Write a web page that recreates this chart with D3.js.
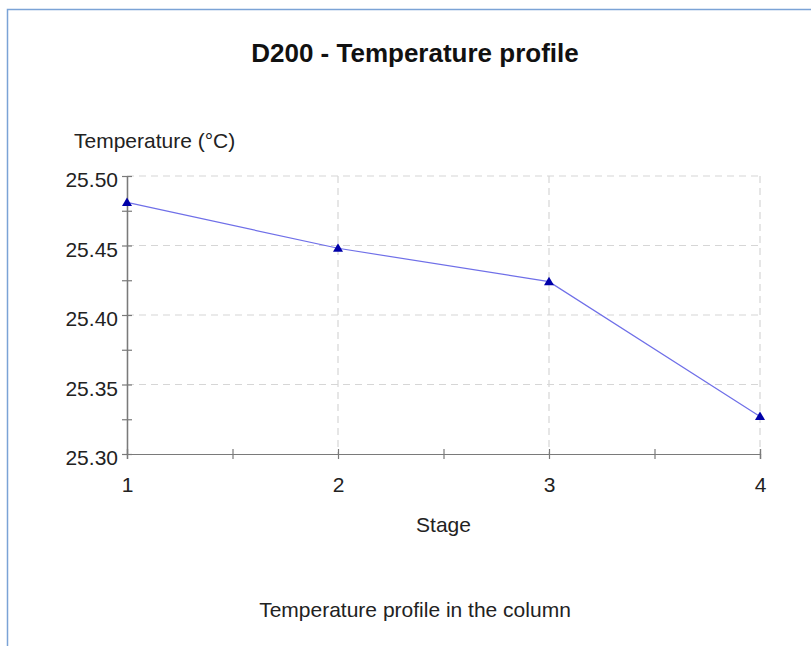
<!DOCTYPE html>
<html>
<head>
<meta charset="utf-8">
<script src="https://cdn.jsdelivr.net/npm/d3@7"></script>
<style>
html,body{margin:0;padding:0;background:#fff;}
svg{display:block;font-family:"Liberation Sans",Arial,sans-serif;}
</style>
</head>
<body>
<div id="chart"></div>
<script>
const title = "D200 - Temperature profile";
const caption = "Temperature profile in the column";
const yTitle = "Temperature (°C)";
const xTitle = "Stage";
const stages = [1, 2, 3, 4];
const temperatures = [25.481, 25.448, 25.424, 25.327];
const yTicks = [25.30, 25.35, 25.40, 25.45, 25.50];
const yMinorTicks = [25.325, 25.375, 25.425, 25.475];
const xMinorTicks = [1.5, 2.5, 3.5];

const W = 811, H = 646;
const svg = d3.select("#chart").append("svg").attr("width", W).attr("height", H);

// frame
svg.append("path").attr("d", `M7.5,${H} V9.5 H${W}`).attr("fill","none").attr("stroke","#7ba3d6").attr("stroke-width",1.5);

const x = d3.scaleLinear().domain([1,4]).range([127,760]);
const y = d3.scaleLinear().domain([25.30,25.50]).range([454,176]);

// grid
const grid = svg.append("g").attr("stroke","#d6d6d6").attr("stroke-dasharray","7,5").attr("stroke-width",1.2);
grid.selectAll(".gy").data(yTicks.slice(1)).join("line")
  .attr("x1",x(1)).attr("x2",x(4)).attr("y1",d=>y(d)).attr("y2",d=>y(d));
grid.selectAll(".gx").data(stages.slice(1)).join("line")
  .attr("x1",d=>x(d)).attr("x2",d=>x(d)).attr("y1",y(25.50)).attr("y2",y(25.30));

// axes
const axisColor = "#7a7a7a";
const yAxis = svg.append("g").attr("transform",`translate(${x(1)},0)`)
  .call(d3.axisLeft(y).tickValues(yTicks).tickFormat(d3.format(".2f")).tickSize(5).tickPadding(4));
const yMinor = svg.append("g").attr("transform",`translate(${x(1)},0)`)
  .call(d3.axisLeft(y).tickValues(yMinorTicks).tickFormat("").tickSize(5));
const yRight = svg.append("g").attr("transform",`translate(${x(1)},0)`)
  .call(d3.axisRight(y).tickValues(yTicks.concat(yMinorTicks)).tickFormat("").tickSize(5));
const xAxis = svg.append("g").attr("transform",`translate(0,${y(25.30)})`)
  .call(d3.axisBottom(x).tickValues(stages).tickFormat(d3.format("d")).tickSize(5).tickPadding(18));
const xMinor = svg.append("g").attr("transform",`translate(0,${y(25.30)})`)
  .call(d3.axisBottom(x).tickValues(xMinorTicks).tickFormat("").tickSize(5));
const xUp = svg.append("g").attr("transform",`translate(0,${y(25.30)})`)
  .call(d3.axisTop(x).tickValues(stages.concat(xMinorTicks)).tickFormat("").tickSize(5));
[yAxis,yMinor,yRight,xAxis,xMinor,xUp].forEach(g=>{
  g.select(".domain").attr("stroke",axisColor).attr("stroke-width",1.2);
  g.selectAll(".tick line").attr("stroke",axisColor).attr("stroke-width",1.2);
  g.selectAll(".tick text").attr("fill","#222").attr("font-size",21).attr("font-family","Liberation Sans, Arial, sans-serif");
});
yAxis.selectAll(".tick text").attr("dy","0.5em");

// line
svg.append("path").datum(stages.map((s,i)=>[s,temperatures[i]]))
  .attr("fill","none").attr("stroke","#6f6fe8").attr("stroke-width",1.2)
  .attr("d", d3.line().x(d=>x(d[0])).y(d=>y(d[1])));

// markers
svg.selectAll(".mk").data(stages.map((s,i)=>[s,temperatures[i]])).join("path")
  .attr("transform",d=>`translate(${x(d[0])},${y(d[1])})`)
  .attr("d","M0,-5 L5,3.5 L-5,3.5 Z").attr("fill","#0000a8");

// texts
svg.append("text").attr("x",415).attr("y",62).attr("text-anchor","middle")
  .attr("font-size",26).attr("font-weight","bold").attr("fill","#111").text(title);
svg.append("text").attr("x",74).attr("y",148).attr("font-size",21).attr("fill","#222").text(yTitle);
svg.append("text").attr("x",(x(1)+x(4))/2).attr("y",532).attr("text-anchor","middle")
  .attr("font-size",21).attr("fill","#222").text(xTitle);
svg.append("text").attr("x",415).attr("y",617).attr("text-anchor","middle")
  .attr("font-size",21).attr("fill","#222").text(caption);
</script>
</body>
</html>
